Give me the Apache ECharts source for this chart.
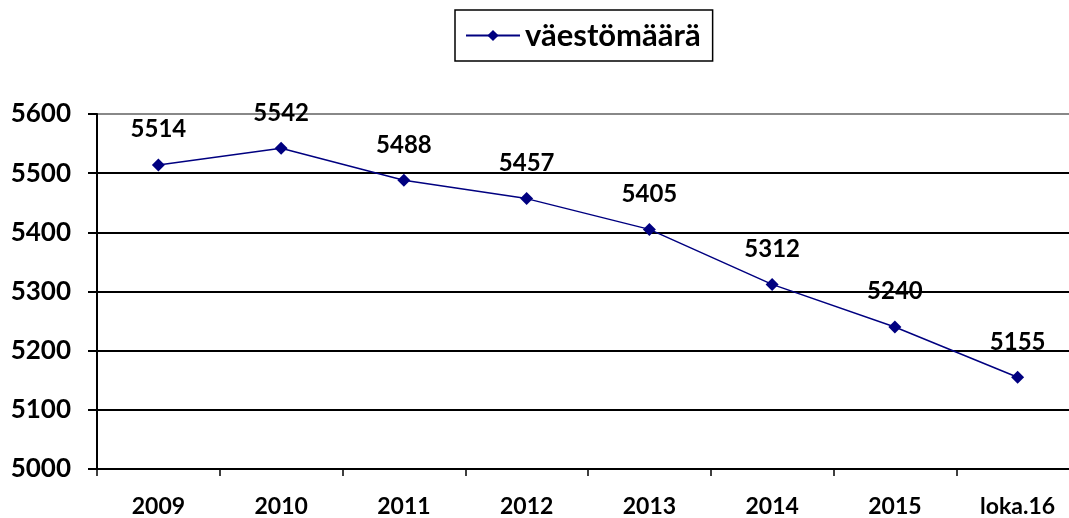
<!DOCTYPE html>
<html>
<head>
<meta charset="utf-8">
<script src="https://cdn.jsdelivr.net/npm/echarts@6/dist/echarts.min.js"></script>
<style>
  html, body { margin: 0; padding: 0; background: #fff; }
  #main { width: 1069px; height: 518px; }
</style>
</head>
<body>
<div id="main"></div>
<script>
  var categories = ['2009', '2010', '2011', '2012', '2013', '2014', '2015', 'loka.16'];
  var vaesto = [5514, 5542, 5488, 5457, 5405, 5312, 5240, 5155];
  var yTicks = [5000, 5100, 5200, 5300, 5400, 5500, 5600];

  var fontName = 'Lato';
  var myChart = echarts.init(document.getElementById('main'));

  var options = {
    animation: false,
    backgroundColor: '#fff',
    legend: {
      top: 10,
      left: 455,
      data: ['väestömäärä'],
      itemWidth: 54,
      itemHeight: 14,
      itemGap: 8,
      padding: [10, 12, 10, 10],
      borderColor: '#000',
      borderWidth: 1.5,
      textStyle: { fontFamily: fontName, fontWeight: 'bold', fontSize: 31, color: '#000' }
    },
    grid: { left: 97, width: 982, top: 114, bottom: 49, outerBoundsMode: 'none', containLabel: false },
    xAxis: {
      type: 'category',
      data: categories,
      boundaryGap: true,
      axisLine: { lineStyle: { color: '#000', width: 2 } },
      axisTick: { show: true, length: 7, lineStyle: { color: '#000', width: 1.5 } },
      axisLabel: { margin: 26, fontFamily: fontName, fontWeight: 'bold', fontSize: 23, color: '#000' }
    },
    yAxis: {
      type: 'value',
      min: yTicks[0],
      max: yTicks[yTicks.length - 1],
      interval: 100,
      axisLine: { show: true, lineStyle: { color: '#000', width: 2 } },
      axisTick: { show: true, inside: false, length: 9, lineStyle: { color: '#000', width: 2 } },
      axisLabel: {
        margin: 26,
        fontFamily: fontName,
        fontWeight: 'bold',
        fontSize: 26,
        color: '#000',
        formatter: function (v) { return String(v); }
      },
      splitLine: {
        show: true,
        lineStyle: { color: ['#000', '#000', '#000', '#000', '#000', '#000', '#888'], width: 2 }
      }
    },
    series: [
      {
        name: 'väestömäärä',
        type: 'line',
        data: vaesto,
        color: '#000080',
        symbol: 'diamond',
        symbolSize: 13,
        lineStyle: { color: '#000080', width: 1.5 },
        itemStyle: { color: '#000080' },
        label: {
          show: true,
          position: 'top',
          distance: 17,
          fontFamily: fontName,
          fontWeight: 'bold',
          fontSize: 24,
          color: '#000'
        }
      }
    ]
  };

  myChart.setOption(options);
</script>
</body>
</html>
